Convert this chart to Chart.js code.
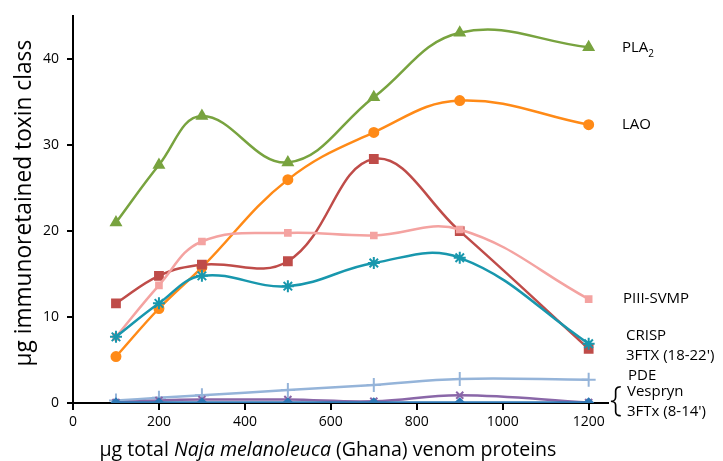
<!DOCTYPE html>
<html>
<head>
<meta charset="utf-8">
<script src="https://cdn.jsdelivr.net/npm/chart.js@4/dist/chart.umd.min.js"></script>
<style>
  body { margin: 0; background: #fff; }
  #wrap { width: 723px; height: 461px; }
</style>
</head>
<body>
<div id="wrap"><canvas id="myChart" width="723" height="461"></canvas></div>
<script>
// µg total venom protein loaded
const doses = [100, 200, 300, 500, 700, 900, 1200]
const xTicks = [0, 200, 400, 600, 800, 1000, 1200]
const yTicks = [0, 10, 20, 30, 40]

// µg of each toxin class retained
const pla2     = [21.0, 27.7, 33.4, 28.0, 35.6, 43.1, 41.4]
const lao      = [5.4, 11.0, 15.8, 26.0, 31.5, 35.2, 32.4]
const ftx1822  = [11.6, 14.8, 16.1, 16.5, 28.4, 20.0, 6.3]
const piiiSvmp = [7.7, 13.7, 18.8, 19.8, 19.5, 20.2, 12.1]
const crisp    = [7.7, 11.6, 14.8, 13.6, 16.3, 16.9, 6.9]
const pde      = [0.3, 0.6, 0.9, 1.5, 2.1, 2.8, 2.7]
const vespryn  = [0.05, 0.3, 0.4, 0.4, 0.2, 0.9, 0.05]
const ftx814   = [0.05, 0.05, 0.05, 0.05, 0.05, 0.05, 0.05]

const pts = (vals) => vals.map((v, i) => ({x: doses[i], y: v}))

const font = "'Open Sans', Lato, sans-serif"

const line = (label, vals, color, style, radius) => ({
    label: label,
    data: pts(vals),
    borderColor: color,
    backgroundColor: color,
    pointBackgroundColor: color,
    pointBorderColor: color,
    pointStyle: style,
    pointRadius: radius,
    pointBorderWidth: 2,
    borderWidth: 2.5,
    tension: 0.4,
})

// draw text so it takes up a given width
const fitText = (c, parts, width, x, y) => {
    let w = 0
    parts.forEach(p => { c.font = `${p[1]}20px ${font}`; w += c.measureText(p[0]).width })
    const size = 20 * width / w
    let pos = x - width / 2
    parts.forEach(p => {
        c.font = `${p[1]}${size}px ${font}`
        c.fillText(p[0], pos, y)
        pos += c.measureText(p[0]).width
    })
}

// labels at the right edge + axis titles (x title has italic part)
const sideText = {
    id: 'sideText',
    afterDraw(chart) {
        const c = chart.ctx
        c.save()
        c.fillStyle = '#000'
        c.textBaseline = 'middle'
        c.textAlign = 'left'
        c.font = `15px ${font}`
        const items = [
            ['LAO', 622, 125],
            ['PIII-SVMP', 623, 299],
            ['CRISP', 626, 336],
            ["3FTX (18-22')", 626, 356],
            ['PDE', 628, 376],
            ['Vespryn', 627, 392],
            ["3FTx (8-14')", 627, 412],
        ]
        items.forEach(t => c.fillText(t[0], t[1], t[2]))
        c.fillText('PLA', 622, 48)
        const w = c.measureText('PLA').width
        c.font = `10px ${font}`
        c.fillText('2', 622 + w, 54)
        c.font = `300 34px ${font}`
        c.fillText('{', 610, 401)

        // y title
        c.save()
        c.translate(25, 203)
        c.rotate(-Math.PI / 2)
        fitText(c, [['µg immunoretained toxin class', '']], 327, 0, 0)
        c.restore()

        // x title
        fitText(c, [['µg total ', ''], ['Naja melanoleuca', 'italic '], [' (Ghana) venom proteins', '']], 457, 328, 450)
        c.restore()
    }
}

const data = {
    datasets: [
        line('3FTx (8-14\')', ftx814, '#2e78b4', 'rectRot', 4),
        line('Vespryn', vespryn, '#8a67a8', 'crossRot', 5),
        line('PDE', pde, '#95b4d9', 'cross', 7),
        line('CRISP', crisp, '#1897ad', 'star', 6),
        line('PIII-SVMP', piiiSvmp, '#f4a3a1', 'rect', 4),
        line('3FTX (18-22\')', ftx1822, '#bf4c49', 'rect', 5.5),
        line('LAO', lao, '#ff8a17', 'circle', 4.5),
        line('PLA2', pla2, '#78a33f', 'triangle', 5.5),
    ]
}

const config = {
    type: 'line',
    data: data,
    plugins: [sideText],
    options: {
        responsive: false,
        animation: false,
        layout: { padding: { top: 15, right: 115, left: 0, bottom: 0 } },
        plugins: {
            legend: { display: false },
            tooltip: { enabled: false },
        },
        scales: {
            x: {
                type: 'linear',
                min: 0,
                max: 1245,
                afterBuildTicks: (s) => { s.ticks = xTicks.map(v => ({value: v})) },
                afterFit: (s) => { s.height = 58 },
                border: { color: '#000', width: 2 },
                grid: { drawOnChartArea: false, color: '#000', tickLength: 7, lineWidth: 2 },
                ticks: { color: '#000', font: { family: font, size: 14 }, padding: 4, maxRotation: 0,
                         callback: (v) => String(v) },
            },
            y: {
                min: 0,
                max: 45,
                afterBuildTicks: (s) => { s.ticks = yTicks.map(v => ({value: v})) },
                afterFit: (s) => { s.width = 73 },
                border: { color: '#000', width: 2 },
                grid: { drawOnChartArea: false, color: '#000', tickLength: 6, lineWidth: 2 },
                ticks: { color: '#000', font: { family: font, size: 14 }, padding: 8 },
            },
        },
    },
}

var myChart = new Chart(document.getElementById('myChart'), config)
</script>
</body>
</html>
